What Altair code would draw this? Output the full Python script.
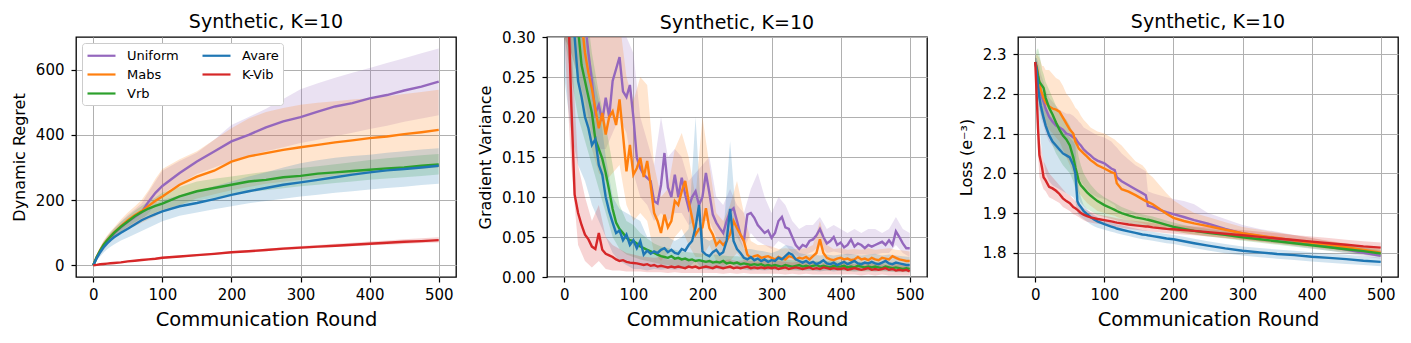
import altair as alt
import pandas as pd

# ---------------- series / colours ----------------
SERIES = ["Uniform", "Mabs", "Vrb", "Avare", "K-Vib"]
COLOR_OF = {"Uniform": "#9467bd", "Mabs": "#ff7f0e", "Vrb": "#2ca02c",
            "Avare": "#1f77b4", "K-Vib": "#d62728"}
BAND_ORDER = ["Uniform", "Avare", "Mabs", "K-Vib", "Vrb"]

TITLE = "Synthetic, K=10"
X_TITLE = "Communication Round"
X_TICKS = [0, 100, 200, 300, 400, 500]

# ---------------- panel 1 : dynamic regret ----------------
x1 = [0, 5, 10, 15, 20, 25, 30, 40, 50, 60, 70, 80, 90, 100, 125,
      150, 175, 200, 225, 250, 275, 300, 325, 350, 375, 400, 425, 450, 475, 500]
regret_uniform = [0, 24, 44, 60, 74, 86, 97, 116, 133, 148, 163, 195, 222, 243, 283,
                  318, 349, 380, 400, 423, 441, 454, 471, 487, 497, 512, 522, 536, 548, 563]
regret_mabs = [0, 25, 46, 63, 77, 89, 100, 120, 138, 153, 166, 182, 198, 211, 247,
               272, 290, 318, 334, 344, 354, 362, 369, 377, 383, 390, 395, 402, 408, 415]
regret_vrb = [0, 25, 45, 62, 76, 88, 99, 118, 134, 150, 163, 174, 182, 189, 211,
              227, 237, 247, 257, 262, 270, 274, 281, 285, 289, 293, 297, 300, 305, 309]
regret_avare = [0, 22, 40, 55, 67, 77, 86, 100, 112, 125, 138, 148, 157, 165, 181,
                191, 203, 216, 227, 237, 247, 254, 262, 270, 278, 285, 291, 295, 300, 305]
regret_kvib = [0, 1, 3, 4, 5, 6, 7, 9, 12, 14, 16, 18, 20, 23, 27,
               31, 35, 40, 43, 47, 51, 54, 57, 60, 63, 66, 69, 72, 74, 77]

regret_uniform_hi = [0, 32, 55, 73, 88, 101, 113, 135, 155, 172, 190, 225, 258, 290, 320,
                     345, 385, 430, 455, 480, 510, 540, 558, 575, 590, 605, 620, 635, 650, 665]
regret_uniform_lo = [0, 16, 32, 47, 60, 71, 81, 98, 112, 125, 138, 160, 185, 220, 250,
                     280, 300, 320, 335, 350, 362, 375, 385, 396, 406, 418, 428, 440, 450, 460]
regret_mabs_hi = [0, 33, 57, 76, 91, 104, 116, 140, 162, 180, 200, 230, 265, 295, 325,
                  350, 385, 420, 450, 470, 482, 492, 498, 503, 508, 512, 518, 525, 531, 538]
regret_mabs_lo = [0, 17, 33, 48, 61, 72, 82, 98, 112, 120, 130, 140, 150, 165, 185,
                  205, 218, 230, 240, 250, 256, 262, 268, 275, 280, 285, 288, 292, 296, 300]
regret_vrb_hi = [0, 30, 53, 72, 87, 100, 112, 133, 150, 167, 182, 196, 208, 222, 240,
                 257, 265, 272, 280, 287, 293, 298, 304, 310, 316, 323, 328, 333, 337, 341]
regret_vrb_lo = [0, 20, 37, 52, 65, 76, 86, 103, 118, 132, 144, 153, 162, 170, 185,
                 198, 207, 216, 224, 230, 236, 242, 247, 252, 257, 262, 266, 270, 274, 278]
regret_avare_hi = [0, 28, 50, 67, 81, 93, 104, 122, 137, 152, 165, 176, 188, 200, 215,
                   228, 242, 257, 272, 285, 300, 313, 322, 330, 335, 339, 345, 350, 355, 359]
regret_avare_lo = [0, 14, 27, 39, 49, 57, 64, 76, 85, 95, 105, 115, 125, 135, 152,
                   162, 172, 181, 190, 197, 204, 211, 216, 222, 227, 232, 237, 241, 246, 250]
regret_kvib_hi = [0, 2, 4, 5, 7, 8, 9, 11, 14, 16, 18, 21, 23, 26, 30,
                  34, 38, 43, 47, 51, 55, 59, 62, 66, 69, 73, 76, 80, 83, 86]
regret_kvib_lo = [0, 0, 2, 3, 4, 5, 6, 7, 10, 12, 14, 16, 18, 20, 24,
                  28, 32, 37, 40, 44, 47, 50, 53, 56, 58, 61, 63, 65, 68, 70]

# ---------------- panel 2 : gradient variance ----------------
x2 = list(range(0, 505, 5))
var_kvib = [0.45, 0.36, 0.22, 0.103, 0.08, 0.065, 0.053, 0.047, 0.038, 0.035,
            0.055, 0.034, 0.029, 0.027, 0.025, 0.022, 0.020, 0.021, 0.019, 0.018,
            0.0175, 0.017, 0.016, 0.015, 0.016, 0.014, 0.015, 0.013, 0.014, 0.013,
            0.012, 0.013, 0.012, 0.013, 0.012, 0.011, 0.013, 0.012, 0.013, 0.011,
            0.012, 0.013, 0.012, 0.011, 0.013, 0.012, 0.011, 0.012, 0.013, 0.011,
            0.012, 0.011, 0.012, 0.013, 0.011, 0.012, 0.011, 0.012, 0.011, 0.012,
            0.011, 0.012, 0.010, 0.011, 0.012, 0.010, 0.011, 0.012, 0.011, 0.010,
            0.011, 0.012, 0.010, 0.011, 0.010, 0.012, 0.011, 0.010, 0.011, 0.010,
            0.010, 0.011, 0.009, 0.010, 0.011, 0.010, 0.009, 0.010, 0.011, 0.009,
            0.010, 0.009, 0.010, 0.011, 0.009, 0.010, 0.008, 0.009, 0.008, 0.009,
            0.007]
var_vrb = [0.50, 0.45, 0.40, 0.35, 0.31, 0.265, 0.245, 0.225, 0.205, 0.172,
           0.160, 0.148, 0.130, 0.108, 0.085, 0.068, 0.060, 0.055, 0.049, 0.046,
           0.045, 0.042, 0.038, 0.036, 0.034, 0.032, 0.030, 0.028, 0.026, 0.025,
           0.024, 0.026, 0.023, 0.024, 0.022, 0.023, 0.021, 0.022, 0.020, 0.021,
           0.020, 0.019, 0.020, 0.018, 0.019, 0.018, 0.020, 0.017, 0.018, 0.017,
           0.018, 0.016, 0.017, 0.016, 0.015, 0.016, 0.015, 0.016, 0.014, 0.015,
           0.014, 0.015, 0.014, 0.013, 0.015, 0.014, 0.013, 0.014, 0.015, 0.013,
           0.014, 0.013, 0.014, 0.015, 0.013, 0.014, 0.013, 0.012, 0.014, 0.013,
           0.013, 0.014, 0.012, 0.013, 0.012, 0.014, 0.013, 0.012, 0.013, 0.012,
           0.013, 0.012, 0.011, 0.013, 0.012, 0.011, 0.012, 0.011, 0.010, 0.011,
           0.010]
var_avare = [0.50, 0.45, 0.38, 0.30, 0.245, 0.225, 0.200, 0.186, 0.165, 0.172,
             0.140, 0.128, 0.100, 0.082, 0.068, 0.055, 0.058, 0.046, 0.053, 0.040,
             0.046, 0.036, 0.045, 0.028, 0.033, 0.029, 0.032, 0.030, 0.034, 0.036,
             0.031, 0.034, 0.030, 0.029, 0.035, 0.033, 0.040, 0.045, 0.062, 0.090,
             0.032, 0.028, 0.026, 0.031, 0.034, 0.028, 0.031, 0.045, 0.085, 0.045,
             0.035, 0.030, 0.024, 0.022, 0.025, 0.021, 0.023, 0.020, 0.022, 0.019,
             0.021, 0.020, 0.024, 0.022, 0.026, 0.030, 0.028, 0.022, 0.020, 0.018,
             0.020, 0.017, 0.019, 0.016, 0.018, 0.021, 0.017, 0.016, 0.018, 0.015,
             0.017, 0.019, 0.016, 0.018, 0.020, 0.017, 0.016, 0.018, 0.017, 0.019,
             0.017, 0.016, 0.018, 0.020, 0.017, 0.016, 0.018, 0.017, 0.016, 0.015,
             0.015]
var_mabs = [0.50, 0.48, 0.45, 0.40, 0.36, 0.32, 0.28, 0.255, 0.235, 0.210,
            0.186, 0.205, 0.178, 0.200, 0.207, 0.190, 0.222, 0.178, 0.132, 0.165,
            0.128, 0.136, 0.149, 0.125, 0.145, 0.115, 0.080, 0.070, 0.055, 0.078,
            0.062, 0.070, 0.095, 0.090, 0.107, 0.120, 0.095, 0.074, 0.053, 0.060,
            0.062, 0.086, 0.061, 0.053, 0.040, 0.045, 0.040, 0.045, 0.053, 0.070,
            0.061, 0.053, 0.045, 0.028, 0.024, 0.026, 0.027, 0.024, 0.025, 0.026,
            0.024, 0.022, 0.025, 0.023, 0.022, 0.026, 0.025, 0.022, 0.024, 0.023,
            0.025, 0.022, 0.026, 0.030, 0.047, 0.030, 0.024, 0.022, 0.021, 0.023,
            0.024, 0.022, 0.023, 0.021, 0.022, 0.025, 0.022, 0.023, 0.021, 0.024,
            0.022, 0.021, 0.024, 0.023, 0.022, 0.026, 0.024, 0.022, 0.021, 0.020,
            0.020]
var_uniform = [0.50, 0.48, 0.45, 0.42, 0.38, 0.35, 0.32, 0.28, 0.245, 0.205,
               0.215, 0.195, 0.224, 0.200, 0.245, 0.260, 0.275, 0.232, 0.225, 0.240,
               0.200, 0.149, 0.136, 0.128, 0.124, 0.120, 0.095, 0.092, 0.115, 0.155,
               0.112, 0.100, 0.128, 0.100, 0.124, 0.103, 0.086, 0.100, 0.107, 0.090,
               0.100, 0.130, 0.105, 0.078, 0.068, 0.061, 0.055, 0.070, 0.082, 0.086,
               0.070, 0.053, 0.045, 0.078, 0.080, 0.074, 0.065, 0.060, 0.055, 0.058,
               0.049, 0.055, 0.070, 0.075, 0.062, 0.060, 0.050, 0.040, 0.035, 0.040,
               0.038, 0.045, 0.047, 0.052, 0.060, 0.050, 0.042, 0.045, 0.050, 0.040,
               0.043, 0.037, 0.040, 0.047, 0.038, 0.042, 0.040, 0.036, 0.040, 0.038,
               0.040, 0.042, 0.044, 0.040, 0.046, 0.040, 0.057, 0.050, 0.042, 0.036,
               0.036]

x2b = list(range(0, 510, 10))
var_kvib_hi = [0.5, 0.30, 0.14, 0.10, 0.07, 0.09, 0.05, 0.04, 0.035, 0.03,
               0.028, 0.026, 0.025, 0.024, 0.025, 0.022, 0.023, 0.022, 0.021, 0.022,
               0.021, 0.022, 0.020, 0.021, 0.022, 0.020, 0.021, 0.020, 0.019, 0.020,
               0.019, 0.020, 0.019, 0.018, 0.019, 0.018, 0.019, 0.017, 0.018, 0.017,
               0.017, 0.018, 0.016, 0.017, 0.016, 0.017, 0.016, 0.015, 0.016, 0.015,
               0.013]
var_kvib_lo = [0.30, 0.14, 0.04, 0.02, 0.012, 0.02, 0.01, 0.008, 0.008, 0.007,
               0.007, 0.007, 0.006, 0.006, 0.006, 0.005, 0.006, 0.005, 0.005, 0.005,
               0.005, 0.005, 0.005, 0.004, 0.005, 0.004, 0.005, 0.004, 0.004, 0.004,
               0.004, 0.004, 0.003, 0.004, 0.003, 0.004, 0.003, 0.003, 0.003, 0.003,
               0.003, 0.003, 0.003, 0.002, 0.003, 0.002, 0.003, 0.002, 0.002, 0.002,
               0.002]
var_vrb_hi = [0.5, 0.5, 0.45, 0.35, 0.28, 0.23, 0.19, 0.14, 0.09, 0.07,
              0.065, 0.055, 0.048, 0.042, 0.038, 0.036, 0.034, 0.032, 0.031, 0.030,
              0.029, 0.028, 0.028, 0.027, 0.026, 0.026, 0.025, 0.024, 0.024, 0.023,
              0.022, 0.022, 0.022, 0.021, 0.021, 0.021, 0.020, 0.020, 0.020, 0.020,
              0.019, 0.019, 0.019, 0.019, 0.018, 0.018, 0.018, 0.018, 0.017, 0.017,
              0.016]
var_vrb_lo = [0.30, 0.25, 0.20, 0.17, 0.14, 0.11, 0.08, 0.05, 0.035, 0.028,
              0.025, 0.022, 0.02, 0.018, 0.016, 0.015, 0.014, 0.013, 0.012, 0.012,
              0.011, 0.011, 0.011, 0.010, 0.010, 0.010, 0.010, 0.009, 0.009, 0.009,
              0.009, 0.009, 0.008, 0.008, 0.008, 0.008, 0.008, 0.008, 0.008, 0.008,
              0.008, 0.007, 0.007, 0.007, 0.007, 0.007, 0.007, 0.007, 0.006, 0.006,
              0.006]
var_avare_hi = [0.5, 0.45, 0.35, 0.30, 0.26, 0.22, 0.15, 0.10, 0.085, 0.08,
                0.075, 0.07, 0.05, 0.05, 0.05, 0.05, 0.045, 0.05, 0.06, 0.20,
                0.05, 0.045, 0.05, 0.05, 0.17, 0.06, 0.035, 0.035, 0.033, 0.032,
                0.03, 0.033, 0.04, 0.038, 0.03, 0.028, 0.028, 0.027, 0.028, 0.027,
                0.028, 0.029, 0.028, 0.027, 0.028, 0.029, 0.027, 0.028, 0.027, 0.026,
                0.025]
var_avare_lo = [0.25, 0.18, 0.14, 0.12, 0.09, 0.07, 0.05, 0.03, 0.02, 0.015,
                0.01, 0.01, 0.008, 0.01, 0.009, 0.01, 0.009, 0.01, 0.012, 0.02,
                0.01, 0.009, 0.01, 0.009, 0.02, 0.01, 0.009, 0.008, 0.009, 0.008,
                0.009, 0.008, 0.01, 0.009, 0.008, 0.008, 0.008, 0.007, 0.008, 0.007,
                0.008, 0.008, 0.007, 0.008, 0.008, 0.007, 0.008, 0.007, 0.007, 0.007,
                0.007]
var_mabs_hi = [0.5, 0.5, 0.5, 0.45, 0.40, 0.35, 0.30, 0.30, 0.32, 0.25,
               0.22, 0.25, 0.24, 0.14, 0.10, 0.11, 0.16, 0.18, 0.15, 0.10,
               0.20, 0.14, 0.08, 0.07, 0.09, 0.12, 0.08, 0.045, 0.04, 0.04,
               0.038, 0.035, 0.036, 0.035, 0.035, 0.036, 0.04, 0.07, 0.04, 0.035,
               0.036, 0.034, 0.035, 0.034, 0.036, 0.034, 0.035, 0.036, 0.034, 0.033,
               0.032]
var_mabs_lo = [0.30, 0.28, 0.25, 0.20, 0.16, 0.13, 0.12, 0.13, 0.14, 0.09,
               0.07, 0.08, 0.07, 0.03, 0.02, 0.03, 0.05, 0.06, 0.04, 0.025,
               0.025, 0.04, 0.02, 0.015, 0.02, 0.03, 0.02, 0.012, 0.012, 0.012,
               0.012, 0.012, 0.012, 0.012, 0.012, 0.012, 0.014, 0.02, 0.012, 0.011,
               0.011, 0.011, 0.011, 0.011, 0.011, 0.011, 0.011, 0.011, 0.01, 0.01,
               0.01]
var_uniform_hi = [0.5, 0.5, 0.5, 0.5, 0.5, 0.35, 0.33, 0.32, 0.33, 0.30,
                  0.28, 0.20, 0.17, 0.14, 0.20, 0.15, 0.16, 0.15, 0.12, 0.13,
                  0.14, 0.15, 0.10, 0.09, 0.11, 0.09, 0.08, 0.11, 0.13, 0.10,
                  0.08, 0.10, 0.09, 0.07, 0.06, 0.065, 0.065, 0.075, 0.06, 0.065,
                  0.06, 0.055, 0.06, 0.055, 0.06, 0.06, 0.055, 0.06, 0.075, 0.06,
                  0.055]
var_uniform_lo = [0.30, 0.28, 0.25, 0.22, 0.18, 0.16, 0.16, 0.18, 0.20, 0.18,
                  0.13, 0.10, 0.09, 0.07, 0.08, 0.07, 0.08, 0.08, 0.065, 0.07,
                  0.07, 0.07, 0.05, 0.04, 0.055, 0.05, 0.035, 0.055, 0.045, 0.04,
                  0.035, 0.045, 0.04, 0.03, 0.025, 0.028, 0.032, 0.04, 0.03, 0.032,
                  0.03, 0.027, 0.028, 0.028, 0.028, 0.028, 0.03, 0.03, 0.04, 0.03,
                  0.025]

# ---------------- panel 3 : loss ----------------
x3 = [0, 2, 4, 6, 8, 10, 12, 15, 20, 25, 30, 35, 40, 45, 50, 55, 58, 61, 63, 66,
      70, 75, 80, 85, 90, 100, 110, 115, 118, 125, 135, 145, 155, 160, 163, 170,
      180, 190, 200, 215, 230, 250, 275, 300, 325, 350, 375, 400, 425, 450, 475, 500]
loss_kvib = [2.28, 2.197, 2.113, 2.046, 2.03, 2.012, 1.99, 1.982, 1.966, 1.962,
             1.956, 1.948, 1.937, 1.93, 1.925, 1.915, 1.912, 1.908, 1.905, 1.9,
             1.896, 1.892, 1.889, 1.887, 1.885, 1.882, 1.879, 1.877, 1.876, 1.874,
             1.871, 1.869, 1.867, 1.866, 1.866, 1.864, 1.862, 1.86, 1.859, 1.857,
             1.855, 1.852, 1.848, 1.844, 1.84, 1.836, 1.832, 1.828, 1.824, 1.82,
             1.816, 1.813]
loss_avare = [2.28, 2.26, 2.22, 2.19, 2.17, 2.155, 2.14, 2.12, 2.096, 2.08,
              2.07, 2.06, 2.05, 2.045, 2.04, 2.02, 2.0, 1.93, 1.922, 1.915,
              1.905, 1.897, 1.89, 1.884, 1.879, 1.872, 1.866, 1.863, 1.861, 1.858,
              1.854, 1.85, 1.846, 1.845, 1.844, 1.842, 1.839, 1.836, 1.834, 1.829,
              1.824, 1.818, 1.811, 1.805, 1.801, 1.797, 1.794, 1.79, 1.787, 1.784,
              1.78, 1.777]
loss_vrb = [2.28, 2.265, 2.245, 2.23, 2.225, 2.22, 2.215, 2.19, 2.165, 2.148,
            2.128, 2.11, 2.095, 2.085, 2.07, 2.04, 2.015, 1.995, 1.98, 1.97,
            1.962, 1.952, 1.944, 1.937, 1.93, 1.92, 1.912, 1.908, 1.905, 1.9,
            1.894, 1.889, 1.886, 1.884, 1.883, 1.88, 1.875, 1.87, 1.865, 1.86,
            1.855, 1.85, 1.845, 1.839, 1.834, 1.829, 1.824, 1.819, 1.814, 1.809,
            1.804, 1.798]
loss_uniform = [2.28, 2.26, 2.24, 2.225, 2.2, 2.19, 2.18, 2.163, 2.142, 2.13,
                2.12, 2.115, 2.11, 2.1, 2.097, 2.09, 2.088, 2.08, 2.075, 2.07,
                2.06, 2.052, 2.045, 2.037, 2.032, 2.025, 2.012, 2.008, 1.99, 1.98,
                1.97, 1.96, 1.95, 1.945, 1.918, 1.915, 1.908, 1.902, 1.897, 1.89,
                1.882, 1.873, 1.86, 1.849, 1.842, 1.836, 1.83, 1.823, 1.815, 1.808,
                1.8, 1.792]
loss_mabs = [2.28, 2.27, 2.25, 2.225, 2.21, 2.2, 2.19, 2.178, 2.168, 2.163,
             2.16, 2.155, 2.14, 2.125, 2.11, 2.1, 2.08, 2.07, 2.062, 2.057,
             2.05, 2.042, 2.033, 2.027, 2.02, 2.012, 2.003, 2.0, 1.975, 1.96,
             1.954, 1.945, 1.935, 1.93, 1.928, 1.922, 1.91, 1.898, 1.888, 1.88,
             1.874, 1.867, 1.858, 1.849, 1.843, 1.837, 1.831, 1.825, 1.82, 1.814,
             1.807, 1.8]

loss_kvib_hi = [2.28, 2.25, 2.18, 2.10, 2.07, 2.05, 2.03, 2.02, 2.00, 1.99,
                1.98, 1.97, 1.96, 1.95, 1.945, 1.935, 1.93, 1.925, 1.922, 1.917,
                1.912, 1.907, 1.903, 1.900, 1.897, 1.893, 1.890, 1.888, 1.887, 1.885,
                1.882, 1.880, 1.878, 1.877, 1.877, 1.875, 1.873, 1.871, 1.870, 1.868,
                1.866, 1.864, 1.860, 1.857, 1.853, 1.849, 1.845, 1.841, 1.837, 1.833,
                1.829, 1.826]
loss_kvib_lo = [2.28, 2.15, 2.05, 1.99, 1.98, 1.97, 1.96, 1.955, 1.94, 1.935,
                1.93, 1.925, 1.915, 1.91, 1.905, 1.897, 1.895, 1.892, 1.89, 1.886,
                1.882, 1.878, 1.876, 1.874, 1.873, 1.871, 1.868, 1.866, 1.865, 1.863,
                1.860, 1.858, 1.856, 1.855, 1.855, 1.853, 1.851, 1.849, 1.848, 1.846,
                1.844, 1.841, 1.837, 1.833, 1.829, 1.825, 1.821, 1.817, 1.813, 1.809,
                1.806, 1.803]
loss_avare_hi = [2.29, 2.29, 2.27, 2.24, 2.22, 2.2, 2.19, 2.17, 2.15, 2.14,
                 2.13, 2.12, 2.11, 2.1, 2.09, 2.08, 2.07, 2.0, 1.96, 1.94,
                 1.92, 1.91, 1.9, 1.895, 1.89, 1.883, 1.877, 1.874, 1.872, 1.869,
                 1.865, 1.861, 1.857, 1.856, 1.855, 1.853, 1.85, 1.847, 1.845, 1.84,
                 1.835, 1.829, 1.822, 1.816, 1.812, 1.808, 1.805, 1.801, 1.798, 1.795,
                 1.791, 1.788]
loss_avare_lo = [2.27, 2.22, 2.16, 2.12, 2.08, 2.05, 2.03, 2.0, 1.98, 1.97,
                 1.965, 1.96, 1.955, 1.95, 1.945, 1.94, 1.93, 1.9, 1.895, 1.89,
                 1.885, 1.878, 1.872, 1.867, 1.863, 1.858, 1.853, 1.851, 1.849, 1.846,
                 1.842, 1.838, 1.834, 1.833, 1.832, 1.83, 1.827, 1.824, 1.822, 1.817,
                 1.812, 1.806, 1.799, 1.793, 1.789, 1.785, 1.782, 1.778, 1.775, 1.772,
                 1.769, 1.766]
loss_vrb_hi = [2.29, 2.31, 2.315, 2.3, 2.28, 2.26, 2.25, 2.23, 2.21, 2.19,
               2.17, 2.155, 2.145, 2.135, 2.12, 2.1, 2.08, 2.06, 2.04, 2.02,
               2.0, 1.985, 1.972, 1.962, 1.952, 1.94, 1.93, 1.925, 1.922, 1.915,
               1.908, 1.902, 1.897, 1.895, 1.894, 1.891, 1.886, 1.881, 1.876, 1.87,
               1.865, 1.86, 1.855, 1.849, 1.844, 1.839, 1.834, 1.829, 1.824, 1.819,
               1.814, 1.808]
loss_vrb_lo = [2.27, 2.23, 2.19, 2.16, 2.15, 2.14, 2.13, 2.11, 2.09, 2.07,
               2.05, 2.035, 2.02, 2.01, 2.0, 1.98, 1.96, 1.945, 1.935, 1.925,
               1.918, 1.91, 1.905, 1.9, 1.895, 1.89, 1.885, 1.883, 1.881, 1.878,
               1.874, 1.87, 1.867, 1.866, 1.865, 1.863, 1.86, 1.857, 1.854, 1.85,
               1.846, 1.841, 1.836, 1.83, 1.825, 1.82, 1.815, 1.81, 1.805, 1.8,
               1.795, 1.789]
loss_uniform_hi = [2.29, 2.29, 2.28, 2.27, 2.25, 2.24, 2.23, 2.21, 2.19, 2.18,
                   2.17, 2.16, 2.155, 2.15, 2.15, 2.145, 2.14, 2.135, 2.13, 2.125,
                   2.115, 2.11, 2.105, 2.1, 2.095, 2.09, 2.08, 2.07, 2.065, 2.05,
                   2.035, 2.02, 2.01, 2.005, 1.955, 1.95, 1.945, 1.94, 1.935, 1.93,
                   1.922, 1.9, 1.885, 1.87, 1.86, 1.853, 1.845, 1.837, 1.829, 1.821,
                   1.813, 1.805]
loss_uniform_lo = [2.27, 2.24, 2.2, 2.17, 2.14, 2.13, 2.12, 2.1, 2.08, 2.07,
                   2.06, 2.055, 2.05, 2.04, 2.03, 2.02, 2.01, 2.0, 1.99, 1.98,
                   1.97, 1.96, 1.95, 1.945, 1.94, 1.935, 1.925, 1.92, 1.91, 1.905,
                   1.9, 1.895, 1.89, 1.887, 1.88, 1.877, 1.873, 1.869, 1.866, 1.861,
                   1.856, 1.85, 1.842, 1.835, 1.829, 1.823, 1.817, 1.811, 1.805, 1.798,
                   1.791, 1.785]
loss_mabs_hi = [2.29, 2.3, 2.295, 2.29, 2.28, 2.27, 2.27, 2.26, 2.26, 2.25,
                2.24, 2.235, 2.22, 2.2, 2.19, 2.175, 2.165, 2.16, 2.155, 2.145,
                2.135, 2.125, 2.115, 2.11, 2.105, 2.1, 2.09, 2.085, 2.08, 2.07,
                2.05, 2.03, 2.02, 2.01, 2.0, 1.99, 1.97, 1.95, 1.932, 1.915,
                1.9, 1.89, 1.877, 1.865, 1.858, 1.851, 1.844, 1.837, 1.83, 1.823,
                1.816, 1.81]
loss_mabs_lo = [2.27, 2.24, 2.2, 2.17, 2.15, 2.14, 2.13, 2.12, 2.11, 2.1,
                2.09, 2.08, 2.06, 2.04, 2.02, 2.0, 1.98, 1.96, 1.95, 1.945,
                1.935, 1.925, 1.918, 1.912, 1.905, 1.9, 1.895, 1.893, 1.89, 1.886,
                1.882, 1.878, 1.874, 1.872, 1.87, 1.867, 1.863, 1.859, 1.855, 1.85,
                1.846, 1.842, 1.837, 1.832, 1.827, 1.822, 1.818, 1.813, 1.808, 1.803,
                1.797, 1.791]


# ---------------- tables ----------------
def mean_table(xs, series_values):
    rows = []
    for name, vals in series_values.items():
        for r, v in zip(xs, vals):
            rows.append({"round": r, "series": name, "value": v})
    return pd.DataFrame(rows)


def band_table(xs, series_bands):
    rows = []
    for name, (lo, hi) in series_bands.items():
        for r, a, b in zip(xs, lo, hi):
            rows.append({"round": r, "band": name, "lo": a, "hi": b})
    return pd.DataFrame(rows)


p1_mean = mean_table(x1, {"Uniform": regret_uniform, "Mabs": regret_mabs, "Vrb": regret_vrb,
                          "Avare": regret_avare, "K-Vib": regret_kvib})
p1_band = band_table(x1, {"Uniform": (regret_uniform_lo, regret_uniform_hi),
                          "Mabs": (regret_mabs_lo, regret_mabs_hi),
                          "Vrb": (regret_vrb_lo, regret_vrb_hi),
                          "Avare": (regret_avare_lo, regret_avare_hi),
                          "K-Vib": (regret_kvib_lo, regret_kvib_hi)})
p2_mean = mean_table(x2, {"Uniform": var_uniform, "Mabs": var_mabs, "Vrb": var_vrb,
                          "Avare": var_avare, "K-Vib": var_kvib})
p2_band = band_table(x2b, {"Uniform": (var_uniform_lo, var_uniform_hi),
                           "Mabs": (var_mabs_lo, var_mabs_hi),
                           "Vrb": (var_vrb_lo, var_vrb_hi),
                           "Avare": (var_avare_lo, var_avare_hi),
                           "K-Vib": (var_kvib_lo, var_kvib_hi)})
p3_mean = mean_table(x3, {"Uniform": loss_uniform, "Mabs": loss_mabs, "Vrb": loss_vrb,
                          "Avare": loss_avare, "K-Vib": loss_kvib})
p3_band = band_table(x3, {"Uniform": (loss_uniform_lo, loss_uniform_hi),
                          "Mabs": (loss_mabs_lo, loss_mabs_hi),
                          "Vrb": (loss_vrb_lo, loss_vrb_hi),
                          "Avare": (loss_avare_lo, loss_avare_hi),
                          "K-Vib": (loss_kvib_lo, loss_kvib_hi)})

FONT = "DejaVu Sans"
PANEL_W, PANEL_H = 380, 240


def line_scale():
    # legend columns are filled column-wise: Uniform/Mabs/Vrb | Avare/K-Vib
    return alt.Scale(domain=SERIES, range=[COLOR_OF[s] for s in SERIES])


def band_scale():
    # different domain order from the line scale so the hidden band legend
    # is never merged with the line legend
    return alt.Scale(domain=BAND_ORDER, range=[COLOR_OF[s] for s in BAND_ORDER])


def panel(mean_df, band_df, ydomain, yticks, yfmt, ytitle, show_legend, title_offset):
    xenc = alt.X("round:Q",
                 scale=alt.Scale(domain=[-25, 525], nice=False, zero=False),
                 axis=alt.Axis(values=X_TICKS, title=X_TITLE, format="d",
                               labelPadding=5, titlePadding=8))
    yscale = alt.Scale(domain=ydomain, nice=False, zero=False)
    yaxis = alt.Axis(values=yticks, format=yfmt, title=ytitle,
                     labelPadding=7, titlePadding=8)
    bands = alt.Chart(band_df).mark_area(clip=True, fillOpacity=0.2).encode(
        x=xenc,
        y=alt.Y("lo:Q", scale=yscale, axis=yaxis, stack=None),
        y2="hi:Q",
        fill=alt.Fill("band:N", scale=band_scale(), legend=None),
    )
    if show_legend:
        leg = alt.Legend(orient="top-left", columns=2, title=None,
                         symbolType="M-2,0L2,0", symbolSize=196, symbolOffset=7,
                         symbolStrokeWidth=2.2, labelFontSize=13,
                         labelFont=FONT, labelColor="black", labelOffset=17,
                         columnPadding=19, rowPadding=3, padding=4, offset=6,
                         fillColor="white", strokeColor="#cccccc", cornerRadius=3)
    else:
        leg = None
    layers = [bands]
    for s in SERIES:
        layers.append(
            alt.Chart(mean_df[mean_df["series"] == s]).mark_line(
                clip=True, strokeWidth=2.4).encode(
                x=xenc,
                y=alt.Y("value:Q", scale=yscale, axis=yaxis),
                color=alt.Color("series:N", scale=line_scale(), legend=leg),
            )
        )
    return alt.layer(*layers).properties(
        width=PANEL_W, height=PANEL_H,
        title=alt.TitleParams(TITLE, fontSize=19, font=FONT, fontWeight="normal",
                              color="black", offset=title_offset, anchor="middle"),
    )


p1 = panel(p1_mean, p1_band, [-36, 700], [0, 200, 400, 600], "d", "Dynamic Regret", True, 5)
p2 = panel(p2_mean, p2_band, [0, 0.3], [0.0, 0.05, 0.1, 0.15, 0.2, 0.25, 0.3], ".2f",
           "Gradient Variance", False, -2.5)
p3 = panel(p3_mean, p3_band, [1.739, 2.343], [1.8, 1.9, 2.0, 2.1, 2.2, 2.3], ".1f",
           "Loss (e\u207b\u00b3)", False, 5)

chart = alt.hconcat(p1, p2, p3, spacing=91, bounds="flush").resolve_scale(
    color="independent", fill="independent"
).resolve_legend(
    color="independent", fill="independent"
).properties(
    padding={"left": 2, "top": 4, "right": 0, "bottom": 0}
).configure_axis(
    labelFont=FONT, titleFont=FONT, labelColor="black", titleColor="black",
    labelFontSize=15, tickColor="black", tickSize=5, tickWidth=1.2,
    domain=False, gridColor="#b0b0b0", gridWidth=1, titleFontWeight="normal",
).configure_axisX(
    titleFontSize=19.5,
).configure_axisY(
    titleFontSize=16,
).configure_view(
    stroke="black", strokeWidth=1.3,
)

chart.save("out.html", embed_options={"renderer": "svg", "actions": False})
